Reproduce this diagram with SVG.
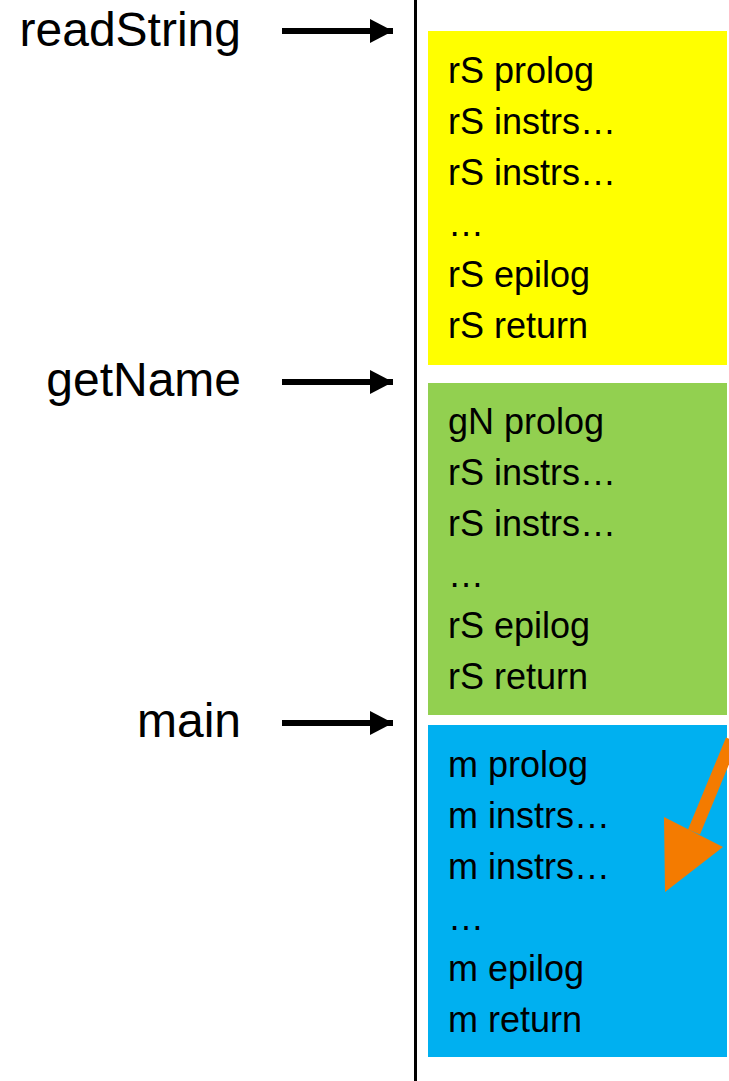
<svg xmlns="http://www.w3.org/2000/svg" width="729" height="1081" viewBox="0 0 729 1081">
<style>
text{font-family:"Liberation Sans",Arial,sans-serif;font-size:36px;fill:#000}
.lbl{text-anchor:end;font-size:48px}
.arr{stroke:#000;stroke-width:6;fill:none}
</style>
<defs>
<marker id="ah" markerUnits="userSpaceOnUse" markerWidth="24" markerHeight="24" refX="23" refY="12" orient="auto">
<path d="M0,0 L23,12 L0,24 Z" fill="#000"/>
</marker>
</defs>
<rect width="729" height="1081" fill="#fff"/>
<line x1="415.5" y1="0" x2="415.5" y2="1081" stroke="#000" stroke-width="3"/>
<g id="readString">
<rect x="428" y="31" width="299" height="334" fill="#ffff00"/>
<text x="448" y="83">rS prolog</text>
<text x="448" y="134">rS instrs…</text>
<text x="448" y="185">rS instrs…</text>
<text x="448" y="236">…</text>
<text x="448" y="287">rS epilog</text>
<text x="448" y="338">rS return</text>
</g>
<g id="getName">
<rect x="428" y="383" width="299" height="332" fill="#92d050"/>
<text x="448" y="434">gN prolog</text>
<text x="448" y="485">rS instrs…</text>
<text x="448" y="536">rS instrs…</text>
<text x="448" y="587">…</text>
<text x="448" y="638">rS epilog</text>
<text x="448" y="689">rS return</text>
</g>
<g id="main">
<rect x="428" y="725" width="299" height="332" fill="#00b0f0"/>
<text x="448" y="777">m prolog</text>
<text x="448" y="828">m instrs…</text>
<text x="448" y="879">m instrs…</text>
<text x="448" y="930">…</text>
<text x="448" y="981">m epilog</text>
<text x="448" y="1032">m return</text>
</g>
<g id="labels">
<text class="lbl" x="241" y="46">readString</text>
<text class="lbl" x="241" y="396">getName</text>
<text class="lbl" x="241" y="737">main</text>
</g>
<g id="connectors">
<line class="arr" x1="282" y1="31" x2="393" y2="31" marker-end="url(#ah)"/>
<line class="arr" x1="282" y1="382" x2="393" y2="382" marker-end="url(#ah)"/>
<line class="arr" x1="282" y1="723" x2="393" y2="723" marker-end="url(#ah)"/>
<path d="M732,740 L694,832" stroke="#f47b00" stroke-width="13" fill="none"/>
<polygon points="664,817 723,847 665,892" fill="#f47b00"/>
</g>
</svg>
